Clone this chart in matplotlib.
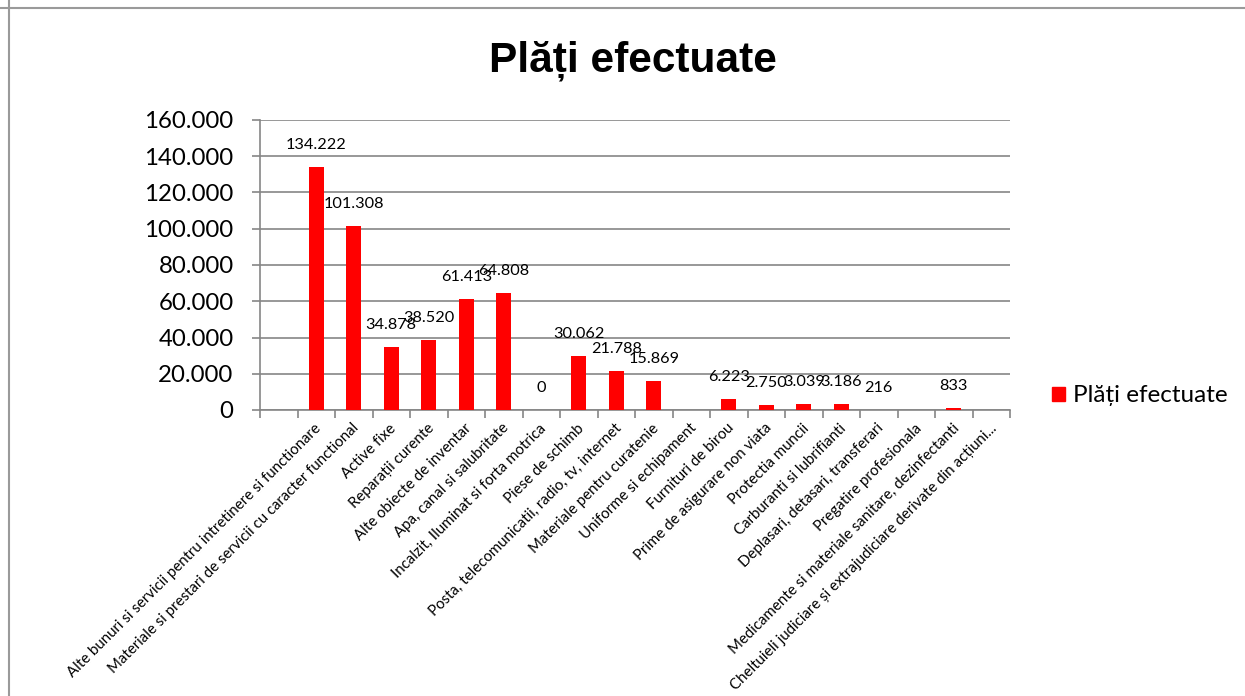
import numpy as np
import matplotlib
matplotlib.use("Agg")
import matplotlib.pyplot as plt
from matplotlib.patches import Patch
from matplotlib.ticker import FuncFormatter, FixedLocator

# ---- data ----
title = "Plăți efectuate"
series_name = "Plăți efectuate"
categories = [
    "",
    "Alte bunuri si servicii pentru intretinere si functionare",
    "Materiale si prestari de servicii cu caracter functional",
    "Active fixe",
    "Reparații curente",
    "Alte obiecte de inventar",
    "Apa, canal si salubritate",
    "Incalzit, Iluminat si forta motrica",
    "Piese de schimb",
    "Posta, telecomunicatii, radio, tv, internet",
    "Materiale pentru curatenie",
    "Uniforme si echipament",
    "Furnituri de birou",
    "Prime de asigurare non viata",
    "Protectia muncii",
    "Carburanti si lubrifianti",
    "Deplasari, detasari, transferari",
    "Pregatire profesionala",
    "Medicamente si materiale sanitare, dezinfectanti",
    "Cheltuieli judiciare și extrajudiciare derivate din acțiuni...",
]
values = [None, 134222, 101308, 34878, 38520, 61413, 64808, 0, 30062, 21788,
          15869, None, 6223, 2750, 3039, 3186, 216, None, 833, None]
y_ticks = [0, 20000, 40000, 60000, 80000, 100000, 120000, 140000, 160000]

FONT = ["Lato", "DejaVu Sans"]
GRID = "#868686"
RED = "#ff0000"


def thousands(v, pos=None):
    return f"{int(v):,}".replace(",", ".")


def main():
    plt.rcParams["font.family"] = FONT
    fig = plt.figure(figsize=(12.45, 6.96), dpi=100)
    ax = fig.add_axes([260 / 1245, 1 - 410 / 696, 750 / 1245, 290 / 696])

    x = np.arange(len(categories))
    heights = [np.nan if v is None else v for v in values]
    ax.bar(x, heights, width=0.4, color=RED, zorder=3)

    ax.set_xlim(-0.5, len(categories) - 0.5)
    ax.set_ylim(0, 160000)
    ax.set_yticks(y_ticks)
    ax.yaxis.set_major_formatter(FuncFormatter(thousands))
    ax.tick_params(axis="y", labelsize=17.3, length=6, color=GRID, width=1.2, pad=13)
    ax.grid(axis="y", color=GRID, linewidth=1.2, zorder=0)

    # category labels at centres, tick marks at category boundaries
    ax.xaxis.set_major_locator(FixedLocator(np.arange(-0.5, len(categories), 1)))
    ax.set_xticklabels([])
    ax.tick_params(axis="x", length=6, color=GRID, width=1.2)
    for i, lab in enumerate(categories):
        ax.annotate(lab, xy=(i, 0), xycoords=("data", "axes fraction"),
                    xytext=(3, -16), textcoords="offset pixels",
                    rotation=45, rotation_mode="anchor", ha="right", va="center",
                    fontsize=10.8, color="black")

    for s in ["top", "right"]:
        ax.spines[s].set_visible(False)
    for s in ["left", "bottom"]:
        ax.spines[s].set_color(GRID)
        ax.spines[s].set_linewidth(1.2)

    # data labels
    for i, v in enumerate(values):
        if v is None:
            continue
        ax.annotate(thousands(v), xy=(i, v), xytext=(0, 22), textcoords="offset pixels",
                    ha="center", va="center", fontsize=11.7, color="black", zorder=4)

    fig.text(633 / 1245, 1 - 61 / 696, title, ha="center", va="center",
             fontsize=30.5, fontweight="bold", family=["Liberation Sans", "DejaVu Sans"])

    fig.legend(handles=[Patch(color=RED, label=series_name)], loc="center left",
               bbox_to_anchor=(1052 / 1245, 1 - 396 / 696), frameon=False,
               fontsize=17.5, handlelength=0.55, handleheight=0.55, handletextpad=0.3,
               borderpad=0, borderaxespad=0)

    # outer chart frame (top and left edges visible)
    fig.add_artist(plt.Line2D([0, 1], [1 - 7.5 / 696] * 2, color="#9a9a9a", lw=1.5,
                              transform=fig.transFigure))
    fig.add_artist(plt.Line2D([8.5 / 1245] * 2, [0, 1], color="#9a9a9a", lw=1.5,
                              transform=fig.transFigure))

    fig.savefig("out.png", dpi=100)
    plt.close(fig)


if __name__ == "__main__":
    main()
